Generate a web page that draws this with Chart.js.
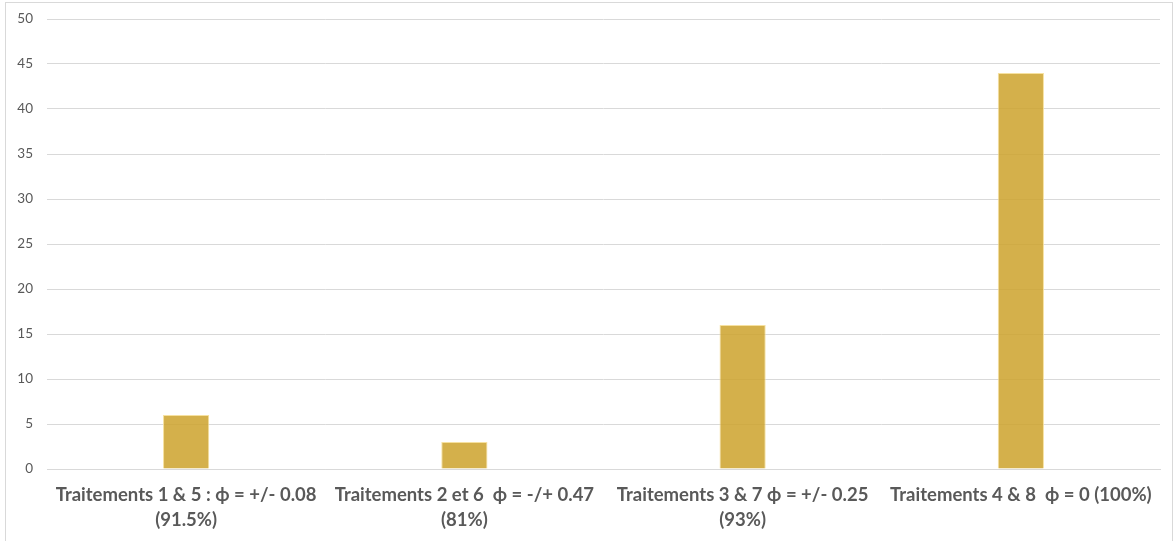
<!DOCTYPE html>
<html>
<head>
<meta charset="utf-8">
<script src="https://cdn.jsdelivr.net/npm/chart.js@4/dist/chart.umd.min.js"></script>
<style>
  html, body { margin: 0; padding: 0; background: #fff; }
  #wrap { position: relative; width: 1174px; height: 541px; }
  #frame { position: absolute; left: 5px; top: 2px; right: 1px; bottom: 0; border: 1px solid #d9d9d9; border-bottom: none; pointer-events: none; }
  canvas { display: block; }
</style>
</head>
<body>
<div id="wrap">
  <canvas id="chart" width="1174" height="541"></canvas>
  <div id="frame"></div>
</div>
<script>
// Treatment groups and their counts
const categories = [
  ["Traitements 1 & 5 : ϕ = +/- 0.08", "(91.5%)"],
  ["Traitements 2 et 6  ϕ = -/+ 0.47", "(81%)"],
  ["Traitements 3 & 7 ϕ = +/- 0.25", "(93%)"],
  ["Traitements 4 & 8  ϕ = 0 (100%)"]
];
const values = [6, 3, 16, 44];
const yTicks = [0, 5, 10, 15, 20, 25, 30, 35, 40, 45, 50];

const gridColor = '#d9d9d9';
const textColor = '#595959';

new Chart(document.getElementById('chart'), {
  type: 'bar',
  data: {
    labels: categories,
    datasets: [{
      data: values,
      backgroundColor: 'rgba(204,162,44,0.85)',
      borderColor: 'rgba(245,222,150,0.9)',
      borderWidth: 1,
      categoryPercentage: 1,
      barPercentage: 0.166
    }]
  },
  options: {
    responsive: false,
    animation: false,
    layout: { padding: { left: 0, right: 14, top: 19, bottom: 0 } },
    plugins: { legend: { display: false }, tooltip: { enabled: false } },
    scales: {
      x: {
        grid: { display: false, drawTicks: false },
        border: { display: true, color: gridColor, width: 1 },
        ticks: {
          color: textColor,
          font: { family: 'Lato', size: 18.5, weight: 'bold', lineHeight: 1.35 },
          maxRotation: 0,
          autoSkip: false,
          padding: 14
        },
        afterFit: s => { s.height = 72; }
      },
      y: {
        min: 0,
        max: 50,
        afterBuildTicks: s => { s.ticks = yTicks.map(v => ({ value: v })); },
        grid: { color: gridColor, lineWidth: 1, drawTicks: false },
        border: { display: false },
        ticks: {
          color: textColor,
          font: { family: 'Lato', size: 13.5 },
          padding: 14
        },
        afterFit: s => { s.width = 47; s.paddingTop = 0; s.paddingBottom = 0; }
      }
    }
  }
});
</script>
</body>
</html>
